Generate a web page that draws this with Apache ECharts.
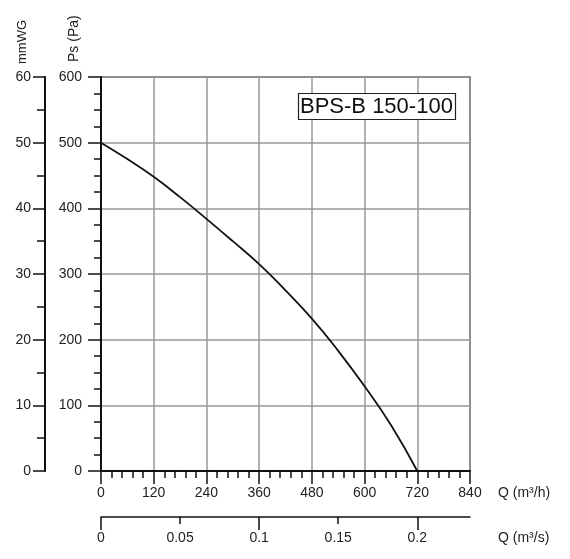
<!DOCTYPE html>
<html lang="en">
<head>
    <meta charset="UTF-8">
    <title>BPS-B 150-100</title>
    <script src="https://cdn.jsdelivr.net/npm/echarts@6/dist/echarts.min.js"></script>
    <style>
        html, body { margin: 0; padding: 0; background: #fff; }
    </style>
</head>
<body>
<div id="main" style="width: 570px;height:559px;"></div>
<script type="text/javascript">
    // fan curve: flow in m3/h, static pressure in Pa
    var flowM3h = [0, 60, 120, 180, 240, 300, 360, 420, 480, 540, 600, 660, 720];
    var pressurePa = [500, 475, 448, 417, 384, 350, 315, 275, 232, 183, 129, 70, 0];
    var m3sLabels = [0, 0.05, 0.1, 0.15, 0.2];
    var m3sMajor = [0, 0.1, 0.2];
    var modelName = 'BPS-B 150-100';

    var txt = '#222';
    var font = 'Liberation Sans, Arial, sans-serif';

    var myChart = echarts.init(document.getElementById('main'));

    myChart.setOption({
        animation: false,
        textStyle: { fontFamily: font },
        title: {
            text: modelName,
            left: 298,
            top: 93,
            padding: [2, 3, 1, 2],
            borderColor: '#222',
            borderWidth: 1.2,
            backgroundColor: '#fff',
            textStyle: { fontSize: 22, fontWeight: 'normal', color: '#111', fontFamily: font, lineHeight: 24 }
        },
        grid: {
            left: 101, right: 100, top: 77, bottom: 88,
            show: true, borderColor: '#444', borderWidth: 1.5
        },
        xAxis: [{
            type: 'value', min: 0, max: 840, interval: 120,
            name: 'Q (m³/h)', nameLocation: 'end', nameGap: 28,
            nameTextStyle: { color: txt, fontSize: 14, verticalAlign: 'top', padding: [15, 0, 0, 0] },
            axisLine: { onZero: false, lineStyle: { color: '#111', width: 2 } },
            axisTick: { length: 13, lineStyle: { color: '#111', width: 1.5 } },
            minorTick: { show: true, splitNumber: 5, length: 7, lineStyle: { color: '#111', width: 1.5 } },
            axisLabel: { margin: 15, color: txt, fontSize: 14 },
            splitLine: { lineStyle: { color: '#999', width: 1.5 } }
        }, {
            type: 'value', min: 0, max: 840 / 3600, position: 'bottom', offset: 46,
            name: 'Q (m³/s)', nameLocation: 'end', nameGap: 28,
            nameTextStyle: { color: txt, fontSize: 14, verticalAlign: 'top', padding: [14, 0, 0, 0] },
            axisLine: { onZero: false, lineStyle: { color: '#111', width: 1.5 } },
            axisTick: { customValues: m3sLabels, length: 7, lineStyle: { color: '#111', width: 1.5 } },
            axisLabel: { customValues: m3sLabels, margin: 14, color: txt, fontSize: 14 },
            splitLine: { show: false }
        }, {
            type: 'value', min: 0, max: 840 / 3600, position: 'bottom', offset: 46,
            axisLine: { show: false, onZero: false },
            axisTick: { customValues: m3sMajor, length: 13, lineStyle: { color: '#111', width: 1.5 } },
            axisLabel: { show: false },
            splitLine: { show: false }
        }],
        yAxis: [{
            type: 'value', min: 0, max: 600, interval: 100, position: 'left',
            axisLine: { show: true, onZero: false, lineStyle: { color: '#111', width: 2 } },
            axisTick: { show: true, length: 13, lineStyle: { color: '#111', width: 1.5 } },
            minorTick: { show: true, splitNumber: 4, length: 7, lineStyle: { color: '#111', width: 1.5 } },
            axisLabel: { margin: 19, color: txt, fontSize: 14 },
            splitLine: { lineStyle: { color: '#999', width: 1.5 } }
        }, {
            type: 'value', min: 0, max: 60, interval: 10, position: 'left', offset: 56,
            axisLine: { show: true, onZero: false, lineStyle: { color: '#111', width: 2 } },
            axisTick: { show: true, length: 12, lineStyle: { color: '#111', width: 1.5 } },
            minorTick: { show: true, splitNumber: 2, length: 8, lineStyle: { color: '#111', width: 1.5 } },
            axisLabel: { margin: 14, color: txt, fontSize: 14 },
            splitLine: { show: false }
        }],
        graphic: [{
            type: 'text', x: 22, y: 64, rotation: Math.PI / 2,
            style: { text: 'mmWG', fill: txt, font: '13px ' + font, align: 'left', verticalAlign: 'middle' }
        }, {
            type: 'text', x: 74, y: 62, rotation: Math.PI / 2,
            style: { text: 'Ps (Pa)', fill: txt, font: '14px ' + font, align: 'left', verticalAlign: 'middle' }
        }],
        series: [{
            type: 'line',
            xAxisIndex: 0,
            yAxisIndex: 0,
            smooth: true,
            symbol: 'none',
            lineStyle: { color: '#111', width: 1.8 },
            data: flowM3h.map(function (q, i) {
                return [q, pressurePa[i]];
            })
        }]
    });
</script>
</body>
</html>
